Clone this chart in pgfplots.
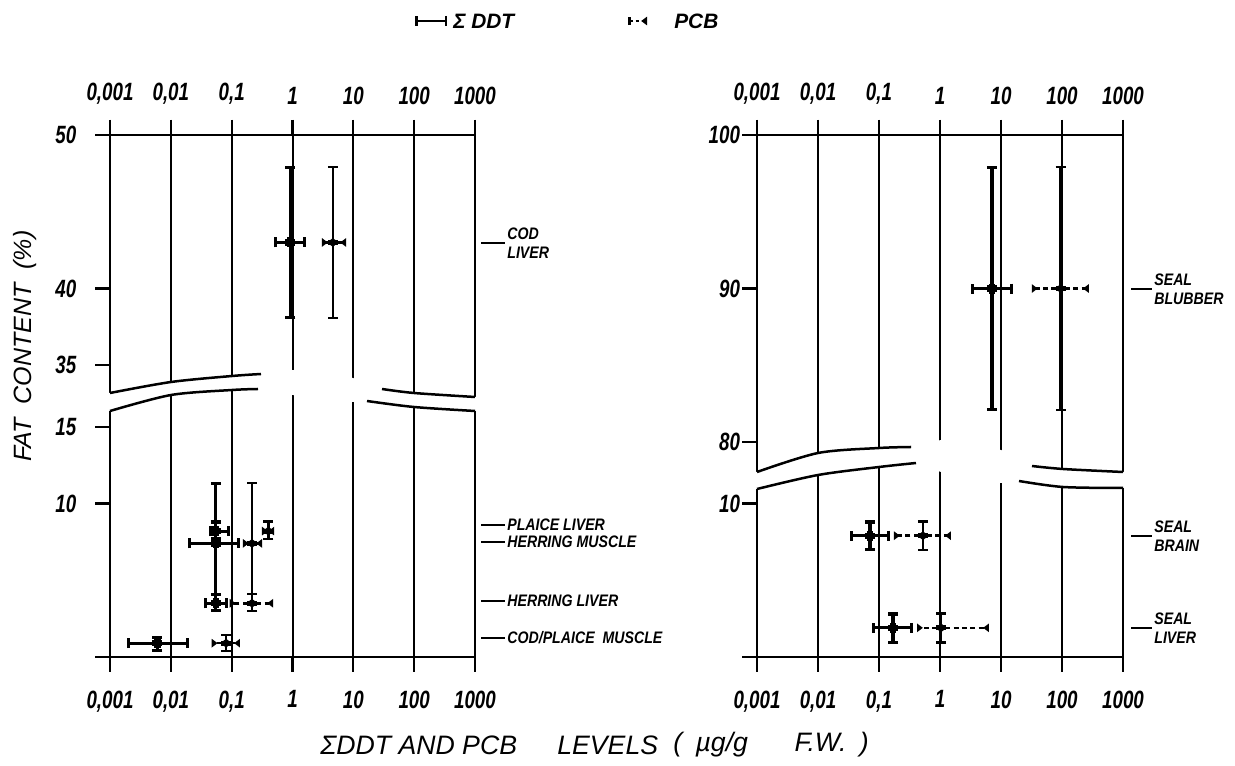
\documentclass[border=0pt]{standalone}
\usepackage{fontspec}
\setmainfont{Liberation Sans}
\newfontfamily\tickfont[FakeStretch=0.75]{Liberation Sans}
\newfontfamily\orgfont[FakeStretch=0.85]{Liberation Sans}
\usepackage{pgfplots}
\usepackage{pgfplotstable}
\pgfplotsset{compat=1.18}
\usetikzlibrary{arrows.meta}

% x: centre, xp/xm: distance to the right/left end; y: fat content, yp/ym likewise
\pgfplotstableread{
x      y    xp     xm      yp   ym
0.92   43   0.74   0.42    5    5
0.055  8.2  0.038  0.012   0.7  0.6
0.055  7.4  0.082  0.036   4.0  4.5
0.055  3.5  0.032  0.020   0.7  0.6
0.006  0.9  0.014  0.0041  0.5  0.6
}\ddtleft
\pgfplotstableread{
x      y    xp     xm      yp   ym
4.6    43   3.0    1.55    5    5
0.216  7.4  0.10   0.063   4.0  4.5
0.40   8.2  0.10   0.085   0.7  0.6
0.216  3.5  0.264  0.123   0.7  0.6
0.081  0.9  0.056  0.034   0.6  0.6
}\pcbleft
\pgfplotstableread{
x      y    xp     xm      yp   ym
7.1    90   8.6    3.9     8    8
0.071  7.9  0.08   0.0375  1.0  1.0
0.17   1.9  0.19   0.093   1.0  1.05
}\ddtright
\pgfplotstableread{
x      y    xp     xm      yp   ym
95     90   180    63      8    8
0.525  7.9  0.985  0.349   1.0  1.0
1.04   1.9  5.31   0.62    1.0  1.05
}\pcbright

\pgfplotsset{
  every axis/.append style={
    scale only axis, height=313.2pt,
    xmin=0.001, xmax=1000, ymin=0, ymax=34,
    xtick={0.001,0.01,0.1,1,10,100,1000},
    xticklabels={{0,001},{0,01},{0,1},1,10,100,1000},
    tick align=outside, major tick length=9pt,
    axis line style={line width=1.5pt},
    every tick/.append style={black, line width=1.3pt},
    ticklabel style={font=\tickfont\bfseries\itshape\fontsize{15}{15}\selectfont, inner sep=0pt},
    clip=false,
  },
}

\begin{document}
\begin{tikzpicture}
\useasboundingbox (0,0) rectangle (741pt,459.6pt);

% left panel
\begin{axis}[xmode=log, xminorticks=false, width=219pt, at={(66pt,65.4pt)}, anchor=south west,
  xmajorgrids, major grid style={black, line width=1.2pt},
  xtick pos=both, ytick pos=left,
  xticklabel style={anchor=north, yshift=-11pt},
  ytick={0,10,15,19,24,34}, yticklabels={,10,15,35,40,50},
  yticklabel style={anchor=east, xshift=-11pt},
  y filter/.expression={y>25 ? y-16 : y}]
  \addplot[draw=none, mark=none, error bars/.cd, x dir=both, y dir=both, x explicit, y explicit,
    error mark=none,
    error bar style={draw=black, solid, line width=1.9pt, {Bar[width=6pt]}-{Bar[width=6pt]}}]
    table[x=x, y=y, x error plus=xp, x error minus=xm, y error plus=yp, y error minus=ym] {\ddtleft};
  \addplot[draw=none, mark=none, error bars/.cd, x dir=both, x explicit,
    error mark=none,
    error bar style={draw=black, line width=1.5pt, dash pattern=on 3pt off 2pt,
      {Triangle[reversed, length=3.5pt, width=5pt]}-{Triangle[reversed, length=3.5pt, width=5pt]}}]
    table[x=x, y=y, x error plus=xp, x error minus=xm, y error plus=yp, y error minus=ym] {\pcbleft};
  \addplot[draw=none, mark=none, error bars/.cd, y dir=both, y explicit,
    error mark=none,
    error bar style={draw=black, solid, line width=1.5pt, {Bar[width=6pt]}-{Bar[width=6pt]}}]
    table[x=x, y=y, x error plus=xp, x error minus=xm, y error plus=yp, y error minus=ym] {\pcbleft};
\end{axis}
\begin{axis}[xmode=log, xminorticks=false, width=219pt, at={(66pt,65.4pt)}, anchor=south west,
  hide y axis, xtick pos=upper, xticklabel pos=upper,
  xticklabel style={anchor=south, yshift=9pt}]
  \addplot[draw=none] coordinates {(1,1)};
\end{axis}

% right panel
\begin{axis}[xmode=log, xminorticks=false, width=219.6pt, at={(454.2pt,65.4pt)}, anchor=south west,
  xmajorgrids, major grid style={black, line width=1.2pt},
  xtick pos=both, ytick pos=left,
  xticklabel style={anchor=north, yshift=-11pt},
  ytick={0,10,14,24,34}, yticklabels={,10,80,90,100},
  yticklabel style={anchor=east, xshift=-1pt},
  y filter/.expression={y>50 ? y-66 : y}]
  \addplot[draw=none, mark=none, error bars/.cd, x dir=both, y dir=both, x explicit, y explicit,
    error mark=none,
    error bar style={draw=black, solid, line width=1.9pt, {Bar[width=6pt]}-{Bar[width=6pt]}}]
    table[x=x, y=y, x error plus=xp, x error minus=xm, y error plus=yp, y error minus=ym] {\ddtright};
  \addplot[draw=none, mark=none, error bars/.cd, x dir=both, x explicit,
    error mark=none,
    error bar style={draw=black, line width=1.5pt, dash pattern=on 3pt off 2pt,
      {Triangle[reversed, length=3.5pt, width=5pt]}-{Triangle[reversed, length=3.5pt, width=5pt]}}]
    table[x=x, y=y, x error plus=xp, x error minus=xm, y error plus=yp, y error minus=ym] {\pcbright};
  \addplot[draw=none, mark=none, error bars/.cd, y dir=both, y explicit,
    error mark=none,
    error bar style={draw=black, solid, line width=1.5pt, {Bar[width=6pt]}-{Bar[width=6pt]}}]
    table[x=x, y=y, x error plus=xp, x error minus=xm, y error plus=yp, y error minus=ym] {\pcbright};
\end{axis}
\begin{axis}[xmode=log, xminorticks=false, width=219.6pt, at={(454.2pt,65.4pt)}, anchor=south west,
  hide y axis, xtick pos=upper, xticklabel pos=upper,
  xticklabel style={anchor=south, yshift=9pt}]
  \addplot[draw=none] coordinates {(1,1)};
\end{axis}

% scale breaks, labels and key, in pixel units of the 1235x766 page
\begin{scope}[x=0.6pt, y=-0.6pt, yshift=459.6pt]
  % left panel break
  \fill[white] (105,393) -- plot[smooth] coordinates {(110,393) (171,382) (232,376) (261,374)}
    -- (293,370) -- (353,378)
    -- plot[smooth] coordinates {(382,389) (414,393) (475,397)} -- (480,397) -- (480,411)
    -- plot[smooth] coordinates {(475,411) (414,407) (367,401)} -- (353,402) -- (293,395)
    -- plot[smooth] coordinates {(258,389) (232,390) (171,395) (110,411)} -- (105,411) -- cycle;
  \begin{scope}[line width=1.5pt]
    \draw plot[smooth] coordinates {(110,393) (171,382) (232,376) (261,374)};
    \draw plot[smooth] coordinates {(110,411) (171,395) (232,390) (258,389)};
    \draw plot[smooth] coordinates {(382,389) (414,393) (475,397)};
    \draw plot[smooth] coordinates {(367,401) (414,407) (475,411)};
  \end{scope}
  % right panel break
  \fill[white] (751,472) -- plot[smooth] coordinates {(757,472) (818,453) (879,448) (911,447)}
    -- (941,440) -- (1001,450)
    -- plot[smooth] coordinates {(1032,466) (1063,469) (1123,472)} -- (1129,472) -- (1129,488)
    -- plot[smooth] coordinates {(1123,488) (1063,487) (1019,481)} -- (1001,483) -- (941,472)
    -- plot[smooth] coordinates {(916,463) (879,467) (818,475) (757,489)} -- (751,489) -- cycle;
  \begin{scope}[line width=1.5pt]
    \draw plot[smooth] coordinates {(757,472) (818,453) (879,448) (911,447)};
    \draw plot[smooth] coordinates {(757,489) (818,475) (879,467) (916,463)};
    \draw plot[smooth] coordinates {(1032,466) (1063,469) (1123,472)};
    \draw plot[smooth] coordinates {(1019,481) (1063,487) (1123,488)};
  \end{scope}

  % organ labels
  \begin{scope}[every node/.style={anchor=west, align=left, inner sep=0pt,
      font=\orgfont\bfseries\itshape\fontsize{10}{11.5}\selectfont}]
    \foreach \yy/\txt in {243/{COD\\LIVER}, 525/{PLAICE LIVER}, 542/{HERRING MUSCLE},
        601/{HERRING LIVER}, 638/{COD/PLAICE\ \ MUSCLE}} {
      \draw[line width=0.9pt] (481,\yy) -- (505,\yy);
      \node at (507,\yy) {\txt};
    }
    \foreach \yy/\txt in {289/{SEAL\\BLUBBER}, 536/{SEAL\\BRAIN}, 628/{SEAL\\LIVER}} {
      \draw[line width=0.9pt] (1131,\yy) -- (1152,\yy);
      \node at (1154,\yy) {\txt};
    }
  \end{scope}

  % key
  \draw[line width=1.5pt, {Bar[width=6pt]}-{Bar[width=6pt]}] (415,21) -- (447,21);
  \node[anchor=west, inner sep=0pt, font=\bfseries\itshape\fontsize{12.5}{12.5}\selectfont] at (453,21) {Σ DDT};
  \draw[line width=1.5pt, dash pattern=on 2pt off 1.5pt,
    {Bar[width=5pt]}-{Triangle[reversed, length=3.5pt, width=5pt]}] (628,21) -- (647,21);
  \node[anchor=west, inner sep=0pt, font=\bfseries\itshape\fontsize{12.5}{12.5}\selectfont] at (674,21) {PCB};

  % axis titles
  \node[rotate=90, inner sep=0pt, font=\itshape\fontsize{15}{15}\selectfont] at (25,346) {FAT~ CONTENT~ (\%)};
  \begin{scope}[every node/.style={anchor=west, inner sep=0pt, font=\itshape\fontsize{16}{16}\selectfont}]
    \node at (320,745) {ΣDDT AND PCB};
    \node at (557,745) {LEVELS};
    \node at (673,745) {(\hspace{8pt}µg/g\hspace{28pt}F.W.\hspace{8pt})};
  \end{scope}
\end{scope}
\end{tikzpicture}
\end{document}
